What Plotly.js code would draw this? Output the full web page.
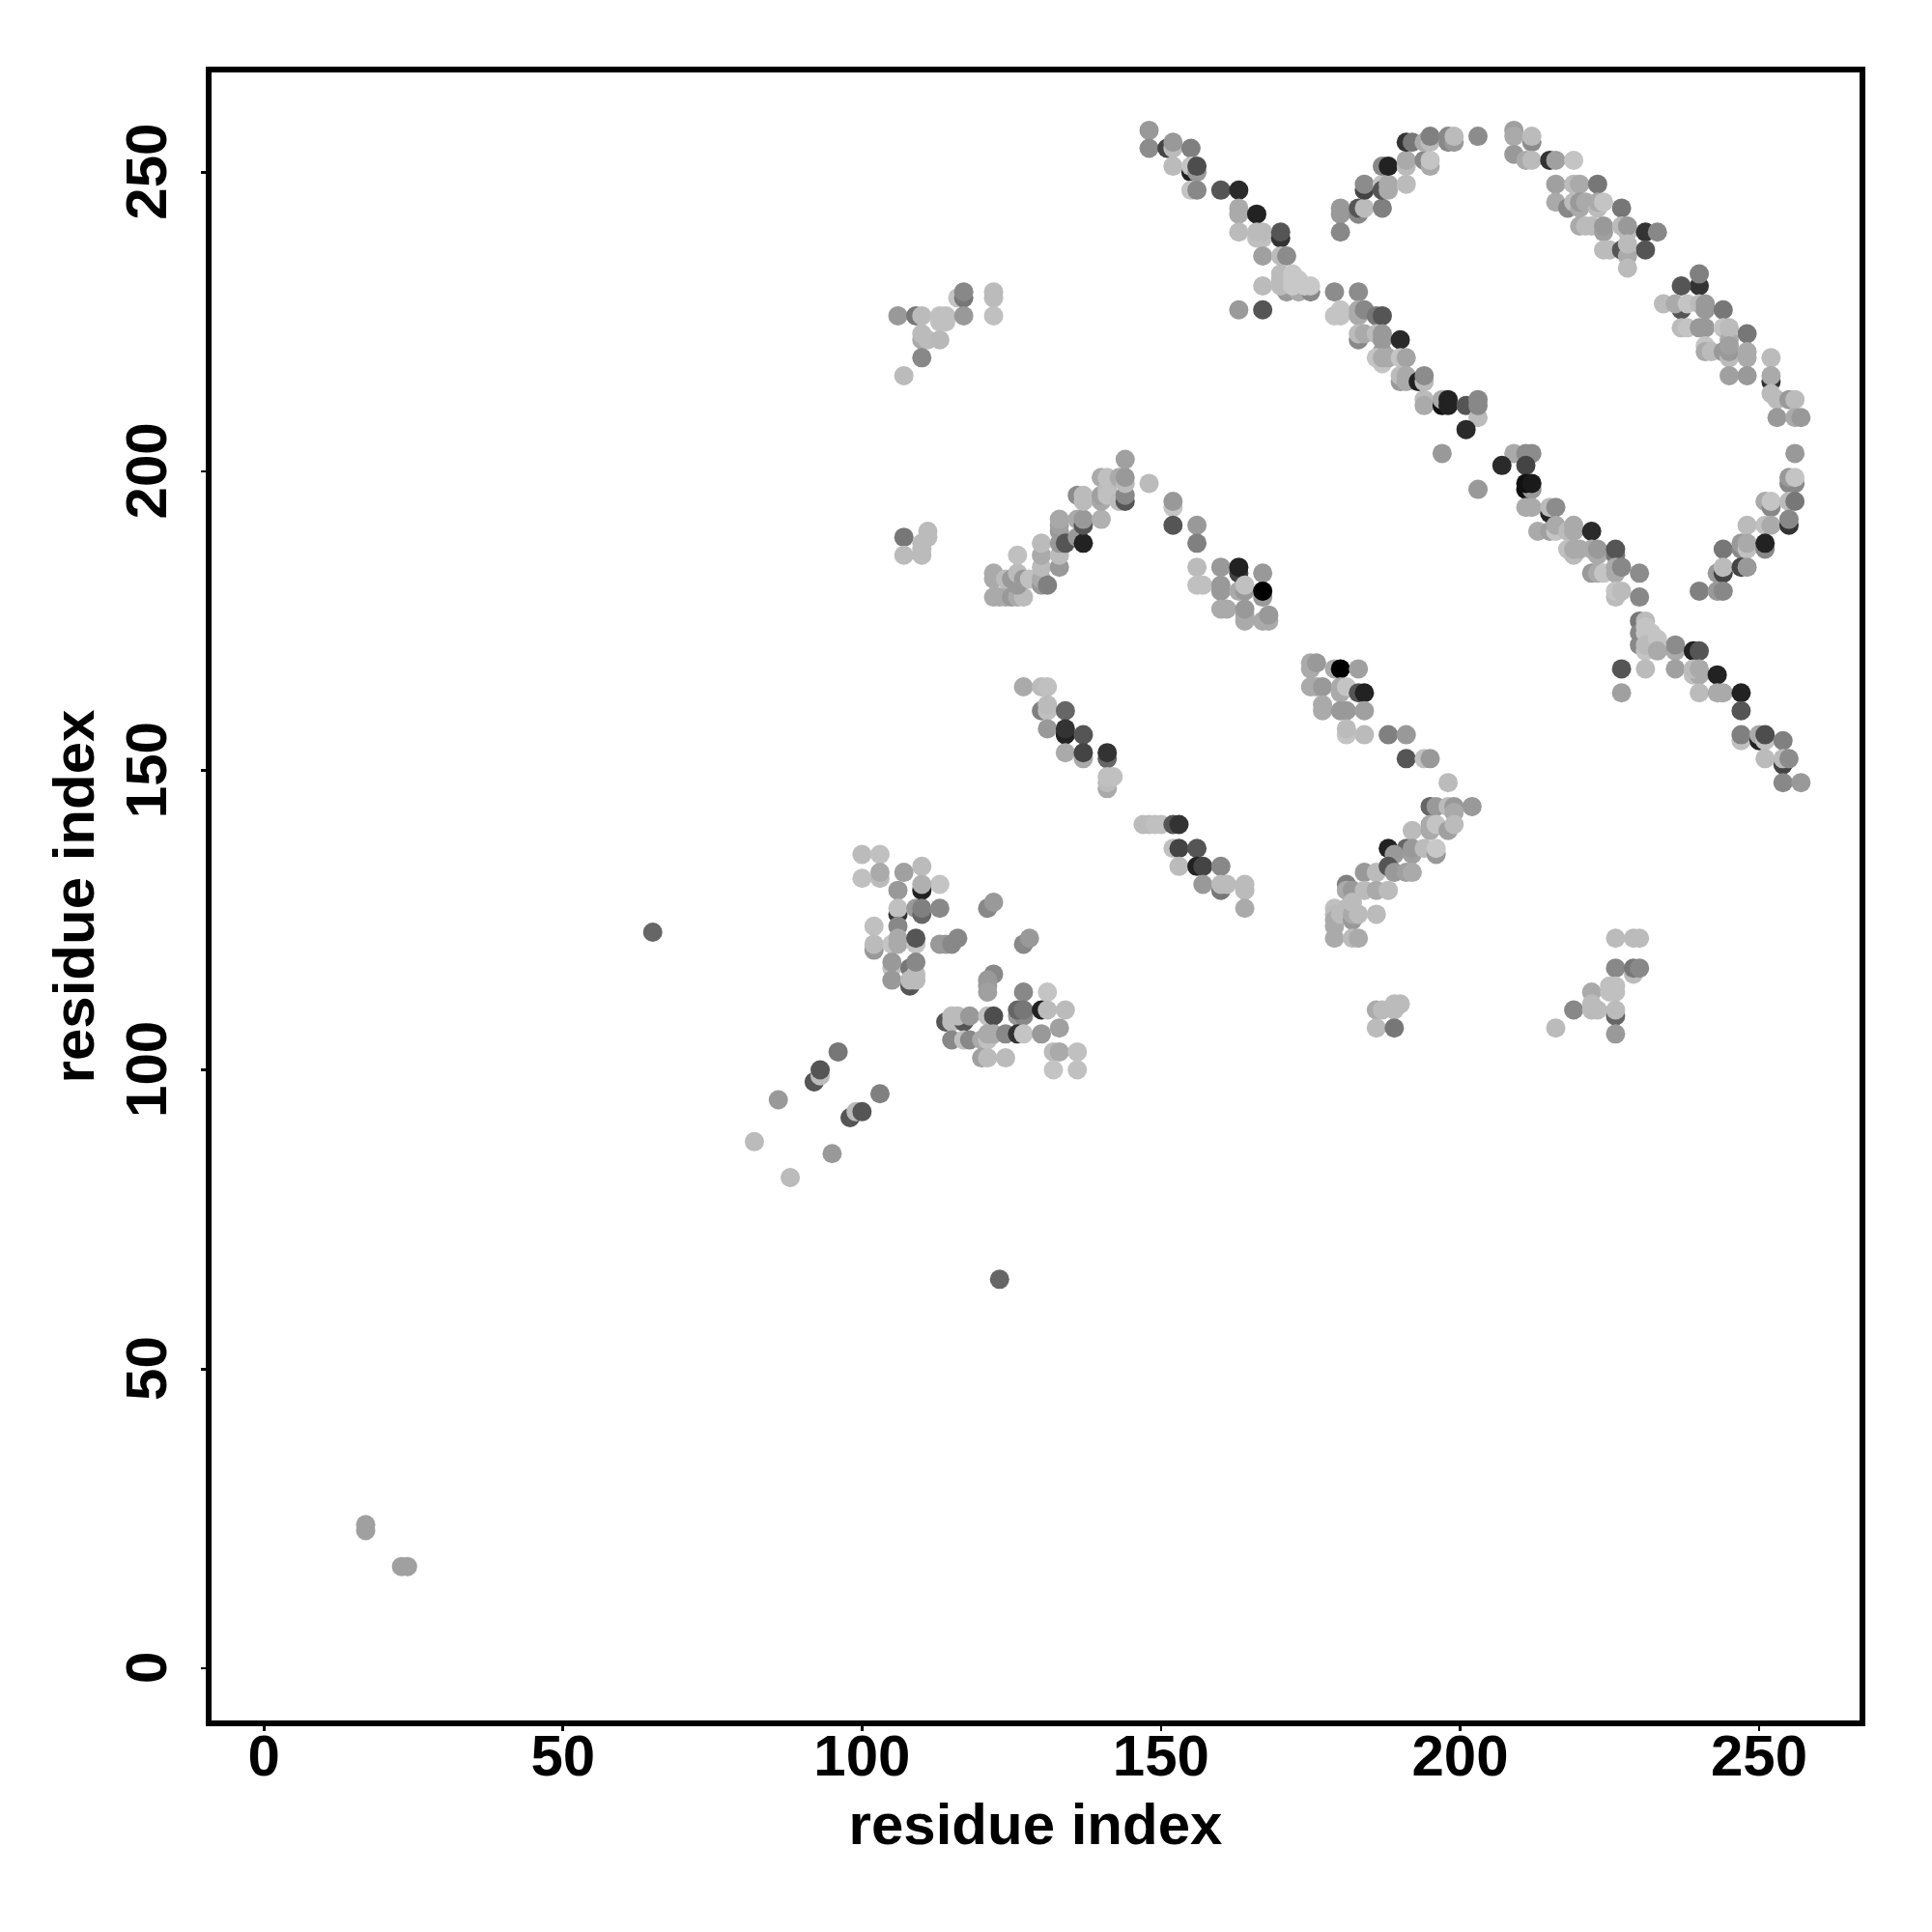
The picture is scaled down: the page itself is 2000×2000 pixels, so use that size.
<!DOCTYPE html>
<html><head><meta charset="utf-8">
<script src="https://cdn.plot.ly/plotly-3.0.1.min.js"></script>
<style>html,body{margin:0;padding:0;background:#fff}</style></head>
<body><div id="chart" style="width:2000px;height:2000px"></div>
<script>
// each contact: [residue i, residue j, grey level]
const sparse = [[17,24,160],[17,23,160],[23,17,160],[24,17,160],[65,123,102],[123,65,102],[82,88,187],[88,82,187],[86,95,153],[95,86,153],[92,98,85],[93,99,187],[93,100,85],[96,103,119],[98,92,85],[99,93,187],[100,93,85],[103,96,128]];
const crossUpper = [[148,257,153],[148,254,140],[151,254,68],[152,254,187],[152,255,153],[155,254,128],[152,251,187],[155,250,34],[155,251,196],[156,250,153],[156,251,77],[155,247,196],[156,247,136],[160,247,85],[163,247,42],[163,244,170],[163,243,170],[166,243,34],[163,240,187],[166,239,192],[167,239,192],[166,240,187],[167,240,187],[170,239,51],[170,240,85],[167,236,160],[170,236,187],[171,236,140],[171,230,153],[173,230,170],[175,230,136],[170,233,187],[170,232,187],[170,231,187],[172,233,200],[172,232,200],[172,231,200],[173,232,200],[174,231,200],[175,231,200],[167,231,187],[163,227,154],[167,227,85]];
const crossLower = [[179,230,140],[183,230,140],[180,227,196],[179,226,196],[180,226,196],[183,227,170],[183,226,170],[184,227,136],[186,226,119],[187,226,85],[183,222,136],[183,223,187],[184,223,170],[186,223,187],[187,223,153],[187,222,153],[190,222,42],[187,220,153],[187,218,196],[186,219,196],[187,219,170],[188,219,170],[190,219,196],[191,219,164],[190,215,153],[190,216,187],[191,216,170],[191,215,170],[193,215,34],[194,215,187],[194,216,140],[194,212,187],[194,211,170],[197,211,17],[197,212,170],[198,211,34],[198,212,34],[201,211,85],[203,209,187],[203,212,136],[203,211,136],[201,207,42],[197,203,153]];
const arcLeft = [[180,244,153],[180,243,153],[180,240,136],[183,243,136],[183,244,85],[184,244,187],[187,244,128],[184,247,68],[184,248,140],[187,248,196],[187,247,85],[187,251,136],[188,247,170],[188,248,170],[188,251,34],[191,248,187],[191,251,187],[191,252,170],[194,252,136],[195,251,170],[195,252,196],[191,255,51],[192,255,119],[194,255,170],[195,255,187],[195,256,128],[198,255,136],[198,256,136],[199,255,153],[199,256,187],[203,256,140]];
const arcRight = [[209,257,160],[209,256,170],[209,253,153],[212,255,140],[212,256,187],[211,252,170],[212,252,187],[215,252,51],[216,252,160],[219,252,196],[216,248,160],[219,248,187],[220,248,170],[223,248,119],[216,245,170],[218,244,136],[219,245,187],[220,244,170],[220,245,153],[221,245,170],[223,244,187],[223,245,170],[224,245,196],[227,244,119],[220,241,170],[221,241,187],[222,241,187],[224,240,160],[224,241,153],[227,241,187],[228,240,187],[228,241,153],[231,240,51],[233,240,136],[224,237,187],[225,237,187],[227,237,85],[228,236,170],[228,238,187],[231,237,85],[228,234,187],[240,231,51],[240,233,128],[237,231,85],[234,228,187],[237,227,85],[236,228,170],[238,228,196],[240,228,187],[241,227,153],[241,228,153],[244,227,119],[237,224,187],[238,224,196],[240,224,153],[241,224,153],[244,224,196],[245,222,170],[245,224,187],[248,223,119],[241,221,196],[241,220,170],[242,220,187],[244,220,153],[245,219,187],[245,220,153],[245,221,160],[248,219,170],[248,220,170],[245,216,160],[248,216,153],[252,219,187],[252,215,51],[252,216,170],[252,213,187],[253,212,187],[255,212,153],[256,212,187],[253,209,153],[256,209,170],[257,209,153]];
const arcClose = [[256,203,153],[255,198,136],[256,198,136],[255,199,153],[256,199,196],[251,195,170],[252,194,136],[252,195,196],[255,195,187],[256,195,119],[248,191,187],[251,191,192],[252,191,170],[255,191,51],[255,192,136],[244,187,119],[247,187,136],[247,188,153],[248,187,192],[248,188,170],[251,187,136],[251,188,34],[243,183,153],[244,183,68],[244,184,187],[247,184,68],[248,184,153],[240,180,128],[243,180,153],[244,180,136]];
const diagonal = [[209,203,170],[211,203,140],[212,203,140],[207,201,42],[211,201,68],[203,197,153],[211,197,17],[212,197,153],[211,198,17],[212,198,26],[211,194,170],[212,194,170],[215,193,34],[215,194,187],[216,194,140],[213,190,170],[215,190,160],[216,190,196],[216,191,170],[218,190,187],[219,190,170],[219,191,170],[222,190,42],[218,187,192],[219,186,187],[219,187,170],[220,187,170],[222,187,170],[223,186,170],[223,187,153],[226,186,119],[226,187,85],[222,183,153],[223,183,170],[224,183,196],[226,183,170],[226,184,170],[227,184,136],[230,183,140],[226,179,187],[226,180,196],[227,180,187],[230,179,136],[230,175,119],[231,175,187],[230,173,136],[230,171,136],[231,174,196],[231,173,196],[232,173,196],[231,170,196],[231,171,187],[232,171,187],[233,172,196],[233,170,170],[236,170,170],[236,171,140],[239,170,34],[240,170,85],[227,167,85],[231,167,187],[236,167,160],[239,166,192],[240,166,170],[239,167,187],[240,167,170],[243,166,34],[227,163,160],[240,163,187],[243,163,170],[244,163,170],[247,163,34],[247,160,85],[247,155,192],[247,156,128],[250,155,34],[250,156,170],[251,155,192],[251,156,77],[254,155,128],[254,151,68],[251,152,187],[254,152,187],[255,152,140],[254,148,136],[257,148,153]];
const peakLeft = [[122,183,170],[122,182,170],[122,179,170],[123,179,170],[124,179,170],[125,179,153],[126,179,170],[127,179,187],[124,182,187],[125,182,153],[126,181,153],[126,183,187],[127,182,153],[128,182,192],[126,186,192],[130,181,153],[130,182,170],[131,181,128],[130,184,187],[130,186,170],[130,188,187],[133,184,153],[133,186,187],[133,188,153],[133,190,153],[133,191,160],[133,192,168],[134,188,85],[136,189,153],[137,188,34],[136,192,170],[137,191,85],[137,192,153],[140,192,176],[136,196,140],[137,195,187],[137,196,187],[140,195,168],[140,196,160],[140,199,170],[141,197,187],[141,196,192],[141,199,192],[143,195,187],[143,199,170],[144,195,85],[144,196,136],[144,198,187],[144,199,153],[144,202,160]];
const peakRight = [[148,198,187],[152,194,196],[152,195,153],[152,191,85],[156,191,153],[156,188,128],[156,184,187],[156,181,192],[157,181,192],[160,184,153],[160,180,153],[160,181,153],[163,183,68],[163,184,34],[167,183,153],[163,180,170],[164,180,153],[164,181,192],[167,179,153],[167,180,0],[160,177,170],[161,177,170],[164,175,170],[164,176,170],[164,177,153],[167,175,170],[168,175,170],[168,176,153],[107,189,119],[107,186,187],[110,186,187],[110,187,187],[110,188,187],[111,189,187],[111,190,187]];
const stripA = [[127,164,170],[130,164,187],[131,164,192],[130,160,128],[131,160,192],[131,161,187],[134,160,102],[131,157,153],[134,156,34],[134,157,51],[137,156,85],[134,153,170],[137,152,170],[137,153,68],[141,152,102],[141,153,51],[141,147,170],[141,148,187],[141,149,192],[142,149,192]];
const stripB = [[147,141,187],[148,141,187],[149,141,192],[150,141,192],[152,141,85],[153,141,51],[152,137,192],[153,137,68],[156,137,85],[153,134,187],[156,134,34],[157,134,68],[160,134,136],[157,131,153],[160,130,119],[160,131,187],[161,131,187],[164,130,187],[164,131,187],[164,127,170]];
const block = [[175,167,170],[175,168,170],[176,168,153],[175,164,170],[176,164,170],[177,164,153],[179,167,170],[180,167,0],[183,167,160],[180,163,170],[180,164,170],[181,164,196],[183,163,85],[184,163,34],[177,161,170],[177,160,170],[180,160,153],[181,160,153],[184,160,160],[181,156,196],[181,157,187],[184,156,187],[188,156,128],[191,156,153],[191,152,85],[194,152,192],[195,152,153],[198,148,187]];
const riseA = [[195,144,102],[196,144,153],[198,144,187],[199,144,153],[202,144,153],[199,143,170],[192,140,187],[195,140,170],[195,141,170],[196,141,196],[198,140,160],[199,141,187],[188,137,34],[191,137,102],[192,136,160],[192,137,153],[189,136,153],[194,137,187],[196,136,153],[196,137,200]];
const riseB = [[184,133,153],[186,133,187],[188,134,85],[189,133,153],[191,133,160],[192,133,170],[181,131,128],[181,130,170],[182,130,153],[184,130,187],[186,130,170],[188,130,187],[179,127,192],[179,126,187],[179,125,170],[179,124,170],[179,122,170],[180,126,187],[181,127,187],[182,125,153],[182,126,170],[182,128,187],[183,126,187],[186,126,187],[182,122,187],[183,122,170]];
const islandA = [[186,110,170],[187,110,187],[189,110,187],[189,111,187],[190,111,187],[186,107,187],[189,107,119]];
const islandB = [[226,122,187],[229,122,187],[230,122,187],[226,117,136],[229,116,187],[229,117,119],[230,117,136],[222,113,170],[225,113,192],[225,114,192],[226,113,192],[226,114,192],[219,110,136],[222,110,187],[222,111,187],[223,110,187],[216,107,187],[226,109,102],[226,110,187],[226,106,153]];
const islandC = [[106,226,153],[109,226,119],[110,226,187],[113,226,192],[114,226,192],[113,225,192],[114,225,192],[110,222,170],[110,223,187],[111,222,187],[113,222,184],[110,219,136],[107,216,187],[116,229,196],[117,229,119],[117,230,136],[117,226,153],[122,229,187],[122,230,187],[122,226,192]];
const lowerA = [[100,136,187],[103,136,192],[100,132,192],[103,132,187],[103,133,170],[107,133,160],[110,134,187],[113,131,196],[106,130,153],[110,130,34],[110,131,176],[106,126,51],[106,127,192],[106,124,136],[109,127,153],[110,126,102],[110,127,128],[113,127,136],[102,124,192],[102,120,153],[102,121,187],[105,121,196],[106,122,170],[106,121,170],[109,121,196],[109,122,85],[113,121,153],[114,121,153],[115,121,136],[116,122,136],[121,127,136],[122,128,153],[127,121,136],[128,122,153],[105,117,192],[105,118,153],[105,115,153],[108,114,85],[108,117,119],[108,115,187],[109,115,187],[109,116,187],[109,118,136]];
const lowerB = [[122,116,136],[121,115,153],[121,114,153],[121,113,160],[127,113,136],[131,113,196],[126,109,153],[127,109,136],[126,110,102],[127,110,119],[130,110,34],[131,110,187],[134,110,187],[114,108,85],[115,109,187],[115,108,187],[117,108,85],[116,109,187],[118,109,153],[121,109,192],[122,109,77],[115,105,136],[117,105,192],[118,105,136],[120,105,170],[121,105,192],[121,106,170],[122,106,170],[124,106,136],[126,106,51],[127,106,196],[130,106,153],[133,107,160],[120,102,160],[121,102,187],[124,102,187],[132,103,187],[133,103,170],[136,103,192],[132,100,196],[136,100,192]];

const contacts = [].concat(sparse, crossUpper, crossLower, arcLeft, arcRight, arcClose, diagonal, peakLeft, peakRight, stripA, stripB, block, riseA, riseB, islandA, islandB, islandC, lowerA, lowerB);
const tickValues = [0,50,100,150,200,250];
const axisTitle = 'residue index';
const fontFamily = '"Liberation Sans", Arial, sans-serif';

function axis(range, extra){
  return Object.assign({
    range: range, tickmode:'array', tickvals:tickValues,
    showgrid:false, zeroline:false, showline:true, mirror:true, linecolor:'#000', linewidth:6,
    ticks:'outside', ticklen:5, tickwidth:2.7, tickcolor:'#000',
    tickfont:{family:fontFamily, size:60, color:'#000', weight:'bold'}
  }, extra);
}
Plotly.newPlot('chart',[{
  type:'scatter', mode:'markers',
  x:contacts.map(c=>c[0]), y:contacts.map(c=>c[1]),
  marker:{size:20, color:contacts.map(c=>`rgb(${c[2]},${c[2]},${c[2]})`), line:{width:0}},
  hoverinfo:'x+y'
}],{
  width:2000, height:2000, showlegend:false,
  paper_bgcolor:'#fff', plot_bgcolor:'#fff',
  margin:{l:219,r:75,t:75,b:219,pad:0},
  xaxis:axis([-8.77,266.8],{tickangle:0, ticktext:tickValues.map(String), ticklabelstandoff:-26, title:{text:axisTitle, standoff:19, font:{family:fontFamily,size:60,color:'#000',weight:'bold'}}}),
  yaxis:axis([-8.72,266.67],{tickangle:-90, ticktext:tickValues.map(v=>v+'\u00a0'), ticklabelstandoff:12, title:{text:axisTitle, standoff:3, font:{family:fontFamily,size:60,color:'#000',weight:'bold'}}})
},{staticPlot:true, displayModeBar:false});
</script></body></html>
